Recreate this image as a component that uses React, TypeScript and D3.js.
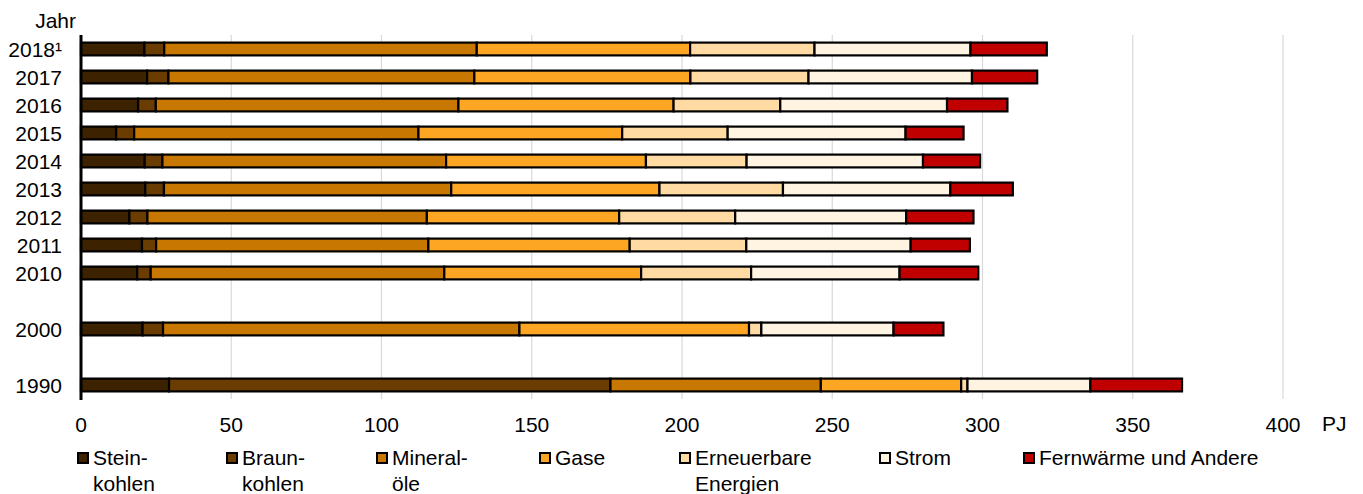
import React from "react";
import * as d3 from "d3";

const years = ["2018¹", "2017", "2016", "2015", "2014", "2013", "2012", "2011", "2010", "gapA", "2000", "gapB", "1990"];
const dataYears = ["2018¹", "2017", "2016", "2015", "2014", "2013", "2012", "2011", "2010", "2000", "1990"];

const steinkohlen = [21.1, 22.0, 19.0, 11.7, 21.2, 21.4, 16.1, 20.3, 18.7, 20.5, 29.3];
const braunkohlen = [6.6, 7.1, 5.9, 6.0, 5.9, 6.2, 6.0, 4.7, 4.5, 6.8, 146.9];
const mineraloele = [104.0, 101.8, 100.7, 94.6, 94.4, 95.6, 93.0, 90.6, 97.7, 118.6, 70.0];
const gase = [71.0, 71.9, 71.6, 67.8, 66.5, 69.3, 64.0, 67.0, 65.5, 76.4, 46.7];
const erneuerbare = [41.4, 39.3, 35.5, 35.1, 33.5, 41.1, 38.6, 38.8, 36.6, 4.1, 2.1];
const strom = [51.9, 54.4, 55.5, 59.2, 58.7, 55.7, 56.9, 54.7, 49.4, 44.0, 40.9];
const fernwaerme = [25.4, 21.7, 20.1, 19.3, 19.0, 20.8, 22.4, 19.7, 26.2, 16.6, 30.5];

const seriesKeys = ["stein", "braun", "mineral", "gase", "erneuerbare", "strom", "fern"];
const seriesLabels = [["Stein-", "kohlen"], ["Braun-", "kohlen"], ["Mineral-", "öle"], ["Gase"], ["Erneuerbare", "Energien"], ["Strom"], ["Fernwärme und Andere"]];
const seriesColors = ["#3d2200", "#6b3c00", "#c87700", "#fca624", "#ffdba3", "#fff3e1", "#c00000"];
const xTicks = [0, 50, 100, 150, 200, 250, 300, 350, 400];

export default function App() {
  const W = 1363, H = 494;
  const x = d3.scaleLinear().domain([0, 400]).range([81, 1283]);
  const y = d3.scaleBand().domain(years).range([35, 399]).padding(0);
  const barH = 12.8;

  const seriesValues = [steinkohlen, braunkohlen, mineraloele, gase, erneuerbare, strom, fernwaerme];
  const table = dataYears.map((yr, i) => {
    const row: any = { year: yr };
    seriesKeys.forEach((k, j) => (row[k] = seriesValues[j][i]));
    return row;
  });
  const stacked = d3.stack().keys(seriesKeys)(table);

  const legendX = [78, 227, 377, 540, 680, 880, 1024];
  const font = "Liberation Sans, Arial, sans-serif";
  const fs = 21;

  return (
    <svg width={W} height={H} style={{ position: "absolute", left: 0, top: 0, background: "#fff" }} fontFamily={font}>
      {xTicks.slice(1).map((t) => (
        <line key={t} x1={x(t)} x2={x(t)} y1={35} y2={399} stroke="#d9d9d9" strokeWidth={1.2} />
      ))}
      {stacked.map((s, si) => (
        <g key={s.key}>
          {s.map((d: any, i) => {
            const yr = dataYears[i];
            const cy = (y(yr) as number) + y.bandwidth() / 2;
            return (
              <rect key={yr} x={x(d[0])} y={cy - barH / 2} width={x(d[1]) - x(d[0])} height={barH}
                fill={seriesColors[si]} stroke="#000" strokeWidth={2.2} />
            );
          })}
        </g>
      ))}
      <line x1={81} x2={81} y1={35} y2={400} stroke="#000" strokeWidth={3} />
      {dataYears.map((yr) => (
        <text key={yr} x={62} y={(y(yr) as number) + y.bandwidth() / 2 + 7.5} textAnchor="end" fontSize={fs} fill="#000">
          {yr}
        </text>
      ))}
      <text x={76} y={28} textAnchor="end" fontSize={fs} fill="#000">Jahr</text>
      {xTicks.map((t) => (
        <text key={t} x={x(t)} y={432} textAnchor="middle" fontSize={fs} fill="#000">{t}</text>
      ))}
      <text x={1322} y={431} fontSize={fs} fill="#000">PJ</text>
      {seriesLabels.map((lab, i) => (
        <g key={i}>
          <rect x={legendX[i]} y={453} width={10} height={10} fill={seriesColors[i]} stroke="#000" strokeWidth={2} />
          <text x={legendX[i] + 15} y={465} fontSize={fs} fill="#000">
            {lab.map((l, j) => (
              <tspan key={j} x={legendX[i] + 15} y={465 + j * 26}>{l}</tspan>
            ))}
          </text>
        </g>
      ))}
    </svg>
  );
}
